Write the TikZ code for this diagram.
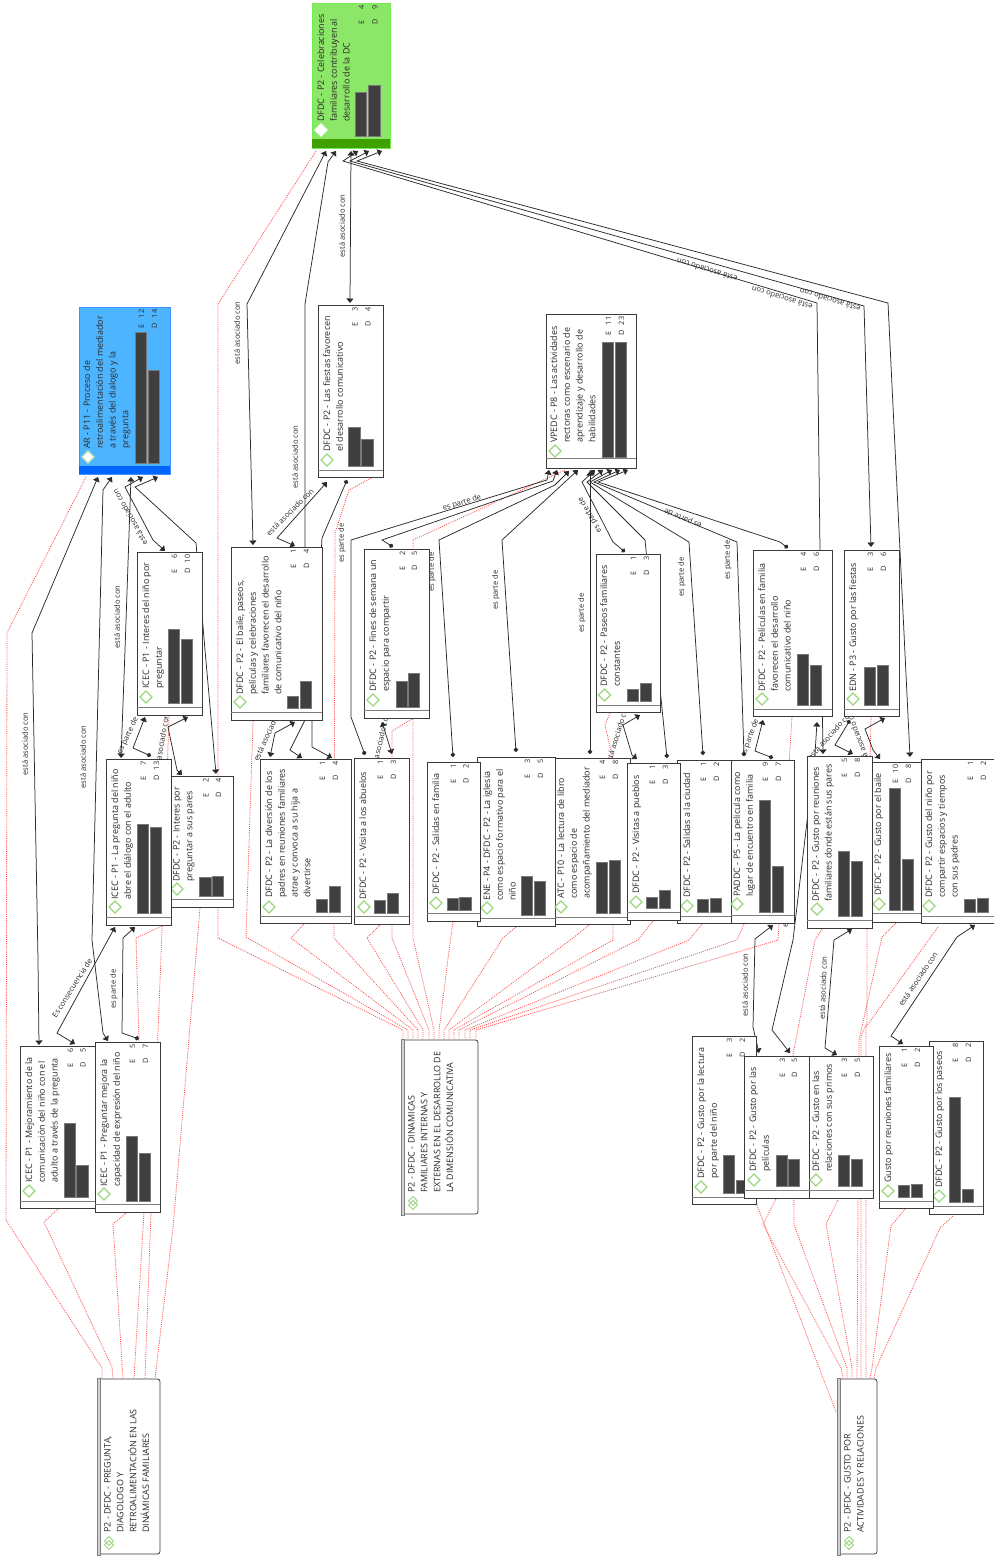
\documentclass[tikz,border=0pt]{standalone}
\usepackage{fontspec}
\setmainfont{Open Sans}
\usetikzlibrary{arrows.meta,calc,backgrounds}
\definecolor{ink}{HTML}{2A2A2A}
\definecolor{barc}{HTML}{3F3F3F}
\definecolor{edgec}{HTML}{3A3A3A}
\definecolor{footc}{HTML}{7F7F7F}
\definecolor{dgreen}{HTML}{9AD77F}
\definecolor{redc}{HTML}{FF5050}
\definecolor{bluef}{HTML}{4DB5FF}
\definecolor{bluefoot}{HTML}{0066FF}
\definecolor{greenf}{HTML}{8CE667}
\definecolor{greenfoot}{HTML}{3FA000}
\tikzset{
 plainbox/.style={draw=edgec,fill=white,line width=.9pt},
 bluebox/.style={draw=bluef!80!blue,fill=bluef,line width=.9pt},
 greenbox/.style={draw=greenf!80!green,fill=greenf,line width=.9pt},
 boxtxt/.style={rotate=90,anchor=north west,inner sep=0pt,align=left,text=ink,font=\fontsize{8.95}{12.8}\selectfont},
 cnt/.style={rotate=90,anchor=east,inner sep=0pt,text=ink,font=\fontsize{7.4}{9}\selectfont},
 lbl/.style={inner sep=0pt,text=ink,font=\fontsize{7.6}{9}\selectfont},
 conn/.style={draw=ink,line width=.75pt},
 hd/.style={conn,arrows={Triangle[length=4.5pt,width=7pt]-Triangle[length=4.5pt,width=7pt]}},
 hdot/.style={conn,arrows={Triangle[length=4.5pt,width=7pt]-Circle[length=4.5pt]}},
 redl/.style={draw=redc,line width=.8pt,dash pattern=on 1pt off 1.1pt},
}
\newcommand{\ep}[3]{($(#1-|#2,0)+(0,#3)$)}
\newcommand{\codeBox}[7]{%
 \pgfmathsetmacro{\bw}{#4-#2}\pgfmathsetmacro{\bh}{#5-#3}%
 \pgfmathsetmacro{\bcx}{(#4+#2)/2}\pgfmathsetmacro{\bcy}{(#5+#3)/2}%
 \node[#7,minimum width=\bw pt,minimum height=\bh pt,inner sep=0pt,outer sep=0pt] (#1) at (\bcx,\bcy) {};%
 \draw[footc,line width=.9pt] (#2,#6) -- (#4,#6);}
\newcommand{\codeText}[4]{\node[boxtxt] (#1t) at (#2-5,#3) {#4};}
\newcommand{\codeBars}[9]{%
 \draw[barc!70!white,fill=barc,line width=.4pt] (#2,#4) rectangle ({#2+11.3},#5);
 \draw[barc!70!white,fill=barc,line width=.4pt] (#3,#4) rectangle ({#3+11.3},#6);
 \node[cnt] (#1E) at ({#2+6.4},#9+2.5) {\makebox[19pt]{E\hfill#7}};
 \node[cnt] (#1D) at ({#3+6.4},#9+2.5) {\makebox[19pt]{D\hfill#8}};}
\newcommand{\codeIcon}[3][dgreen]{\draw[#1,line width=1.1pt,fill=white] (#2-6,#3) -- (#2,#3-6) -- (#2+6,#3) -- (#2,#3+6) -- cycle;}
\newcommand{\famBox}[6]{%
 \pgfmathsetmacro{\bw}{#4-#2}\pgfmathsetmacro{\bh}{#5-#3}%
 \pgfmathsetmacro{\bcx}{(#4+#2)/2}\pgfmathsetmacro{\bcy}{(#5+#3)/2}%
 \node[fill=white,minimum width=\bw pt,minimum height=\bh pt,inner sep=0pt,outer sep=0pt] (#1) at (\bcx,\bcy) {};%
 \draw[edgec,line width=.8pt,rounded corners=2.5pt] (#2,#3+1) -- (#4,#3+1) -- (#4,#5-1) -- (#2,#5-1);
 \draw[footc,fill=black!18,line width=.6pt] (#2,#3) rectangle (#2+3,#5);
 \draw[dgreen,line width=1pt,fill=white] (#6-4.5,#5-14) -- (#6,#5-18.5) -- (#6+4.5,#5-14) -- (#6,#5-9.5) -- cycle;
 \draw[dgreen,line width=1pt] (#6-4.5,#5-10) -- (#6,#5-14.5) -- (#6+4.5,#5-10) -- (#6,#5-5.5) -- cycle;}
\begin{document}
\begin{tikzpicture}[x=1pt,y=-1pt]
\useasboundingbox (0,0) rectangle (993,1560);
% ---------- boxes
\codeBox{green}{312}{3}{390}{148}{143}{greenbox}
\fill[greenfoot] (312,139) rectangle (390,148);
\codeIcon[white]{321}{130}
\codeText{green}{322}{122}{DFDC - P2 - Celebraciones\\familiares contribuyen al\\desarrollo de la DC}
\codeBars{green}{355}{368.6}{136}{92}{85}{4}{9}{3}

\codeBox{ar}{79}{307}{170}{474}{470}{bluebox}
\fill[bluefoot] (79,466) rectangle (170,474);
\codeIcon[dgreen!60!white]{88}{457}
\codeText{ar}{88}{449}{AR - P11 - Proceso de\\retroalimentación del mediador\\a través del dialogo y la\\pregunta}
\codeBars{ar}{135}{148}{463}{332}{370}{12}{14}{307}

\codeBox{inino}{137}{552}{202}{715}{707}{plainbox}
\codeIcon{146}{697}
\codeText{inino}{147}{689}{ICEC - P1 - Interes del niño por\\preguntar}
\codeBars{inino}{168}{181}{703}{629}{639}{6}{10}{552}

\codeBox{ipares}{171}{776}{233}{907}{899}{plainbox}
\codeIcon{177}{889}
\codeText{ipares}{178}{882}{DFDC - P2 - Interes por\\preguntar a sus pares}
\codeBars{ipares}{199.5}{212}{896}{877}{876}{2}{4}{776}

\codeBox{lapreg}{106}{759}{171}{925}{917}{plainbox}
\codeIcon{115}{907}
\codeText{lapreg}{116}{900}{ICEC - P1 - La pregunta del niño\\abre el diálogo con el adulto}
\codeBars{lapreg}{137}{150}{913}{824}{827}{7}{13}{759}

\codeBox{baile}{231}{547}{322}{720}{712}{plainbox}
\codeIcon{240}{702}
\codeText{baile}{241}{695}{DFDC - P2 - El baile, paseos,\\películas y celebraciones\\familiares favorecen el desarrollo\\de comunicativo del niño}
\codeBars{baile}{287}{300}{708}{696}{681}{1}{4}{547}

\codeBox{fiestas}{318}{305}{383}{477}{470}{plainbox}
\codeIcon{327}{460}
\codeText{fiestas}{328}{452}{DFDC - P2 - Las fiestas favorecen\\el desarrollo comunicativo}
\codeBars{fiestas}{348.5}{361.5}{466}{427}{439}{3}{4}{305}

\codeBox{vp}{546}{314}{636}{468}{458}{plainbox}
\codeIcon{555}{451}
\codeText{vp}{555}{443}{VPEDC - P8 - Las actividades\\rectoras como escenario de\\aprendizaje y desarrollo de\\habilidades}
\codeBars{vp}{602}{615}{457}{342}{342}{11}{23}{314}

\codeBox{fines}{364}{549}{429}{718}{710}{plainbox}
\codeIcon{373}{700}
\codeText{fines}{374}{692}{DFDC - P2 - Fines de semana un\\espacio para compartir}
\codeBars{fines}{396}{408}{707}{681}{673}{2}{5}{549}

\codeBox{paseos}{596}{554}{660}{712}{705}{plainbox}
\codeIcon{604.5}{695}
\codeText{paseos}{605}{687}{DFDC - P2 - Paseos familiares\\constantes}
\codeBars{paseos}{627}{640}{701}{689}{683}{1}{3}{554}

\codeBox{pelis}{753}{550}{832}{716}{709}{plainbox}
\codeIcon{762}{699}
\codeText{pelis}{763}{692}{DFDC - P2 - Películas en familia\\favorecen el desarrollo\\comunicativo del niño}
\codeBars{pelis}{797}{810}{705}{654}{665}{4}{6}{550}

\codeBox{edn}{844}{550}{899}{716}{709}{plainbox}
\codeIcon{853}{699}
\codeText{edn}{854}{692}{EDN - P3 - Gusto por las fiestas}
\codeBars{edn}{864}{877}{705}{667}{665}{3}{6}{550}

\codeBox{diver}{260}{759}{351}{923}{916}{plainbox}
\codeIcon{269}{907}
\codeText{diver}{270}{898}{DFDC - P2 - La diversión de los\\padres en reuniones familiares\\atrae y convoca a su hija a\\divertirse}
\codeBars{diver}{316}{329}{912}{899}{886}{1}{4}{759}

\codeBox{abuelos}{354}{758}{409}{924}{916}{plainbox}
\codeIcon{364}{907}
\codeText{abuelos}{364}{900}{DFDC - P2 - Visita a los abuelos}
\codeBars{abuelos}{374}{387}{913}{900}{893}{1}{3}{758}

\codeBox{iglesia}{477}{757}{555}{926}{918}{plainbox}
\codeIcon{487}{908}
\codeText{iglesia}{488}{901}{ENE - P4 - DFDC - P2 - La iglesia\\como espacio formativo para el\\niño}
\codeBars{iglesia}{521}{534}{915}{876}{881}{3}{5}{757}

\codeBox{salfam}{427}{762}{480}{921}{913}{plainbox}
\codeIcon{436}{903}
\codeText{salfam}{437}{895}{DFDC - P2 - Salidas en familia}
\codeBars{salfam}{447}{459.5}{910}{898}{897}{1}{2}{762}

\codeBox{atc}{555}{758}{630}{924}{917}{plainbox}
\codeIcon{561}{907}
\codeText{atc}{562}{899}{ATC - P10 - La lectura de libro\\como espacio de\\acompañamiento del mediador}
\codeBars{atc}{596}{609}{913}{862}{860}{4}{8}{758}

\codeBox{ciudad}{677}{760}{731}{923}{916}{plainbox}
\codeIcon{687}{906}
\codeText{ciudad}{688}{898}{DFDC - P2 - Salidas a la ciudad}
\codeBars{ciudad}{697}{710}{912}{899}{898}{1}{2}{760}

\codeBox{pueblos}{627}{763}{680}{920}{912}{plainbox}
\codeIcon{636}{902}
\codeText{pueblos}{637}{894}{DFDC - P2 - Visitas a pueblos}
\codeBars{pueblos}{646}{659}{908}{897}{890}{1}{3}{763}

\codeBox{paddc}{731}{760}{794}{923}{915}{plainbox}
\codeIcon{737}{904}
\codeText{paddc}{738}{897}{PADDC - P5 - La pelicula como\\lugar de encuentro en familia}
\codeBars{paddc}{759}{772}{912}{800}{866}{9}{7}{760}

\codeBox{gbaile}{872}{762}{922}{922}{913}{plainbox}
\codeIcon{879}{904}
\codeText{gbaile}{879}{896}{DFDC - P2 - Gusto por el baile}
\codeBars{gbaile}{889}{902}{910}{788}{859}{10}{8}{762}

\codeBox{greun}{807}{756}{872}{928}{920}{plainbox}
\codeIcon{817}{909}
\codeText{greun}{817}{902}{DFDC - P2 - Gusto por reuniones\\familiares donde están sus pares}
\codeBars{greun}{838}{851}{916}{851}{861}{5}{8}{756}

\codeBox{gnino}{921}{759}{1000}{923}{916}{plainbox}
\codeIcon{929}{906}
\codeText{gnino}{930}{898}{DFDC - P2 - Gusto del niño por\\compartir espacios y tiempos\\con sus padres}
\codeBars{gnino}{964}{977}{912}{899}{898}{1}{2}{759}

\codeBox{lectura}{692}{1036}{756}{1204}{1197}{plainbox}
\codeIcon{701}{1187}
\codeText{lectura}{702}{1179}{DFDC - P2 - Gusto por la lectura\\por parte del niño}
\codeBars{lectura}{723}{736}{1193}{1155}{1180}{3}{2}{1036}

\codeBox{gpelis}{744}{1056}{809}{1198}{1190}{plainbox}
\codeIcon{754}{1180}
\codeText{gpelis}{754}{1172}{DFDC - P2 - Gusto por las\\películas}
\codeBars{gpelis}{776}{788}{1186}{1155}{1159}{3}{5}{1056}

\codeBox{primos}{809}{1056}{873}{1198}{1190}{plainbox}
\codeIcon{816}{1180}
\codeText{primos}{817}{1172}{DFDC - P2 - Gusto en las\\relaciones con sus primos}
\codeBars{primos}{838}{851}{1186}{1155}{1159}{3}{5}{1056}

\codeBox{gpaseos}{929}{1041}{983}{1214}{1206}{plainbox}
\codeIcon{939}{1196}
\codeText{gpaseos}{940}{1188}{DFDC - P2 - Gusto por los paseos}
\codeBars{gpaseos}{949}{962}{1202}{1097}{1189}{8}{2}{1041}

\codeBox{greufam}{879}{1046}{933}{1208}{1201}{plainbox}
\codeIcon{888}{1191}
\codeText{greufam}{889}{1183}{Gusto por reuniones familiares}
\codeBars{greufam}{898}{911}{1197}{1185}{1184}{1}{2}{1046}

\codeBox{mejora}{20}{1046}{95}{1208}{1201}{plainbox}
\codeIcon{29}{1191}
\codeText{mejora}{30}{1183}{ICEC - P1 - Mejoramiento de la\\comunicación del niño con el\\adulto a través de la pregunta}
\codeBars{mejora}{64}{76.5}{1197}{1123}{1165}{6}{5}{1046}

\codeBox{pregme}{95}{1042}{160}{1212}{1204}{plainbox}
\codeIcon{104}{1194}
\codeText{pregme}{105}{1187}{ICEC - P1 - Preguntar mejora la\\capacidad de expresión del niño}
\codeBars{pregme}{126}{139}{1201}{1136}{1153}{5}{7}{1042}

% ---------- family boxes
\famBox{fone}{401}{1039}{478}{1215}{413}
\node[boxtxt] (fonet) at (413-5,1193) {P2 - DFDC - DINAMICAS\\FAMILIARES INTERNAS Y\\EXTERNAS EN EL DESARROLLO DE\\LA DIMENSIÓN COMUNICATIVA};
\famBox{ftwo}{97}{1378}{160}{1555}{109}
\node[boxtxt] (ftwot) at (109-5,1533) {P2 - DFDC - PREGUNTA,\\DIAGOLOGO Y\\RETROALIMENTACIÓN EN LAS\\DINÁMICAS FAMILIARES};
\famBox{fthree}{837}{1378}{877}{1555}{849}
\node[boxtxt] (fthreet) at (849-5,1533) {P2 - DFDC - GUSTO POR\\ACTIVIDADES Y RELACIONES};

% ---------- connectors behind the boxes
\begin{scope}[on background layer]
% red: family 1
\draw[redl] \ep{green.south}{316}{3} -- (218,304) -- (218,938) -- (403,1030) -- \ep{fone.north}{403}{0};
\draw[redl] \ep{baile.south}{253}{1} -- (246,937) -- (408,1030) -- \ep{fone.north}{408}{0};
\draw[redl] \ep{diver.south}{304}{1} -- (291,938) -- (413,1030) -- \ep{fone.north}{413}{0};
\draw[redl] \ep{fiestas.south}{371}{1} -- (349,490) -- (335,533) -- (334,938) -- (418,1030) -- \ep{fone.north}{418}{0};
\draw[redl] \ep{abuelos.south}{380}{1} -- (367,938) -- (423,1030) -- \ep{fone.north}{423}{0};
\draw[redl] \ep{fines.south}{412}{1} -- (392,731) -- (392,938) -- (429,1030) -- \ep{fone.north}{429}{0};
\draw[redl] \ep{vp.south}{565}{2} -- (413,540) -- (413,938) -- (434,1030) -- \ep{fone.north}{434}{0};
\draw[redl] \ep{salfam.south}{453}{1} -- (450,943) -- (439,1030) -- \ep{fone.north}{439}{0};
\draw[redl] \ep{iglesia.south}{516}{1} -- (503,938) -- (444,1030) -- \ep{fone.north}{444}{0};
\draw[redl] \ep{atc.south}{589}{1} -- (573,938) -- (449,1030) -- \ep{fone.north}{449}{0};
\draw[redl] \ep{paseos.south}{610}{1} -- (605,725) -- (613,760) -- (613,940) -- (454,1030) -- \ep{fone.north}{454}{0};
\draw[redl] \ep{pueblos.south}{653}{1} -- (638,940) -- (459,1030) -- \ep{fone.north}{459}{0};
\draw[redl] \ep{ciudad.south}{702}{1} -- (689,940) -- (465,1030) -- \ep{fone.north}{465}{0};
\draw[redl] \ep{paddc.south}{744}{1} -- (737,940) -- (470,1030) -- \ep{fone.north}{470}{0};
\draw[redl] \ep{pelis.south}{792}{1} -- (778,940) -- (476,1030) -- \ep{fone.north}{476}{0};
% red: family 2
\draw[redl] \ep{ar.south}{86}{3} -- (7,633) -- (6,1220) -- (102,1368) -- \ep{ftwo.north}{102}{0};
\draw[redl] \ep{mejora.south}{58}{1} -- (44,1222) -- (112,1367) -- \ep{ftwo.north}{113}{0};
\draw[redl] \ep{pregme.south}{126}{1} -- (113,1224) -- \ep{ftwo.north}{123}{0};
\draw[redl] \ep{lapreg.south}{162}{1} -- (136,938) -- (144,1212) -- \ep{ftwo.north}{134}{0};
\draw[redl] \ep{inino.south}{169}{1} -- (162,930) -- (151,1212) -- \ep{ftwo.north}{145}{0};
\draw[redl] \ep{ipares.south}{200}{1} -- (173,1228) -- \ep{ftwo.north}{155}{0};
% red: family 3
\draw[redl] \ep{lectura.south}{757}{1} -- (836,1412);
\draw[redl] \ep{gpelis.south}{776}{1} -- (763,1224) -- (841,1368) -- \ep{fthree.north}{843}{0};
\draw[redl] \ep{greun.south}{822}{1} -- (815,940) -- (793,1055) -- (794,1225) -- (847,1368) -- \ep{fthree.north}{847}{0};
\draw[redl] \ep{primos.south}{838}{2} -- (826,1224) -- (852,1368) -- \ep{fthree.north}{852}{0};
\draw[redl] \ep{gbaile.south}{896}{1} -- (882,937) -- (859,1040) -- \ep{fthree.north}{857}{0};
\draw[redl] \ep{edn.south}{871}{1} -- (867,928) -- (867,1023) -- (861,1036) -- \ep{fthree.north}{861}{0};
\draw[redl] \ep{gnino.south}{938}{4} -- (866,1027) -- \ep{fthree.north}{866}{0};
\draw[redl] \ep{greufam.south}{905}{1} -- (891,1226) -- (872,1368) -- \ep{fthree.north}{870}{0};
\draw[redl] \ep{gpaseos.south}{953}{2} -- (940,1228) -- (876,1368) -- \ep{fthree.north}{874}{0};
% black: AR
\draw[hd] \ep{ar.south}{98}{3} -- (32,633) -- (38,960) -- \ep{mejora.north}{39}{-1};
\draw[hd] \ep{ar.south}{112}{3} -- (103,490) -- (92,940) -- (103,1033) -- \ep{pregme.north}{108}{-1};
\draw[hd] \ep{ar.south}{131}{3} -- (125,650) -- \ep{lapreg.north}{121}{-1};
\draw[hd] \ep{ar.south}{143}{3} -- (125,487) -- (153,540) -- \ep{inino.north}{165}{-1};
\draw[hd] \ep{ar.south}{158}{3} -- (135,487) -- (196,543) -- (205,650) -- \ep{ipares.north}{216}{-2};
\draw[hdot] \ep{inino.south}{145}{2} -- (133,748) -- \ep{lapreg.north}{151}{-3};
\draw[hd] \ep{inino.south}{188}{2} -- (168,727) -- (177,770) -- \ep{ipares.north}{182}{-1};
\draw[hd] \ep{lapreg.south}{115}{2} -- (57,1033) -- \ep{mejora.north}{75}{-2};
\draw[hdot] \ep{lapreg.south}{135}{2} -- (123,938) -- (122,1033) -- \ep{pregme.north}{139}{-3};
% black: green
\draw[hd] \ep{green.south}{326}{3} -- (247,304) -- \ep{baile.north}{253}{-2};
\draw[hd] \ep{green.south}{336}{3} -- (328,162) -- (305,304) -- (305,720) -- (290,750) -- \ep{diver.north}{302}{-1};
\draw[hd] \ep{green.south}{351}{3} -- \ep{fiestas.north}{350}{-2};
\draw[hd] \ep{green.south}{358}{3} -- (343,161) -- (817,303) -- (820,550) -- \ep{greun.north}{823}{-2};
\draw[hd] \ep{green.south}{369}{3} -- (350,161) -- (864,306) -- \ep{edn.north}{871}{-3};
\draw[hd] \ep{green.south}{382}{3} -- (357,161) -- (888,303) -- \ep{gbaile.north}{910}{-5};
\draw[hd] \ep{fiestas.south}{327}{5} -- (277,538) -- \ep{baile.north}{295}{-1};
\draw[hdot,arrows={Circle[length=4.5pt]-Triangle[length=4.5pt,width=7pt]}] \ep{fiestas.south}{347}{3} -- (322,538) -- (312,720) -- (312,747) -- \ep{diver.north}{332}{-1};
\draw[hd] \ep{baile.south}{295}{2} -- (275,733) -- \ep{diver.north}{270}{-2};
% black: VP
\draw[hdot] \ep{vp.south}{549}{2} -- (547,480) -- (351,540) -- (351,717) -- \ep{abuelos.north}{365}{-3};
\draw[hdot] \ep{vp.south}{557}{2} -- (553,481) -- (382,540) -- \ep{fines.north}{393}{-2};
\draw[hdot] \ep{vp.south}{569}{3} -- (555,485) -- (439,540) -- \ep{salfam.north}{453}{-5};
\draw[hdot] \ep{vp.south}{578}{2} -- (502,540) -- \ep{iglesia.north}{516}{-5};
\draw[hdot] \ep{vp.south}{590}{3} -- \ep{atc.north}{590}{-4};
\draw[hdot] \ep{vp.south}{595}{2} -- (582,482) -- (613,542) -- \ep{paseos.north}{625}{-2};
\draw[hdot] \ep{vp.south}{603}{2} -- (587,482) -- (645,540) -- \ep{pueblos.north}{667}{-5};
\draw[hdot] \ep{vp.south}{612}{2} -- (590,482) -- (689,542) -- \ep{ciudad.north}{703}{-5};
\draw[hdot] \ep{vp.south}{620}{2} -- (594,482) -- (737,542) -- \ep{paddc.north}{744}{-4};
\draw[hdot] \ep{vp.south}{628}{2} -- (598,482) -- (780,542) -- \ep{pelis.north}{788}{-2};
% black: lower
\draw[hd] \ep{fines.south}{382}{4} -- \ep{abuelos.north}{392}{-4};
\draw[hd] \ep{paseos.south}{640}{3} -- (623,725) -- (632,755) -- \ep{pueblos.north}{637}{-4};
\draw[hdot] \ep{pelis.south}{763}{4} -- (755,751) -- \ep{paddc.north}{773}{-2};
\draw[hd] \ep{pelis.south}{817}{6} -- (815,754) -- (793,940) -- (772,1030) -- \ep{gpelis.north}{790}{-3};
\draw[hdot,arrows={Circle[length=4.5pt]-Triangle[length=4.5pt,width=7pt]}] \ep{edn.south}{850}{4} -- (835,745) -- \ep{greun.north}{853}{-2};
\draw[hd] \ep{edn.south}{885}{2} -- (865,729) -- (873,750) -- \ep{gbaile.north}{880}{-3};
\draw[hd] \ep{paddc.south}{773}{2} -- (755,939) -- (753,1027) -- \ep{gpelis.north}{759}{-3};
\draw[hd] \ep{greun.south}{852}{1} -- (834,940) -- (825,1048) -- \ep{primos.north}{837}{-1};
\draw[hd] \ep{gnino.south}{975}{2} -- (957,937) -- (891,1036) -- \ep{greufam.north}{903}{-2};
% labels
\node[lbl,rotate=90] (la1) at (25,744) {está asociado con};
\node[lbl,rotate=90] (la2) at (83,757) {está asociado con};
\node[lbl,rotate=90] (la3) at (117,617) {está asociado con};
\node[lbl,rotate=119] (la4) at (130,517) {está asociado con};
\node[lbl,rotate=80] (la5) at (161,745) {está asociado con};
\node[lbl,rotate=65] (la6) at (128,736) {es parte de};
\node[lbl,rotate=58] (la7) at (72,988) {Es consecuencia de};
\node[lbl,rotate=90] (la8) at (114,989) {es parte de};
\node[lbl,rotate=90] (lg1) at (237,333) {está asociado con};
\node[lbl,rotate=90] (lg2) at (295,457) {está asociado con};
\node[lbl,rotate=90] (lg3) at (342,226) {está asociado con};
\node[lbl,rotate=163] (lg4) at (707,270) {está asociado con};
\node[lbl,rotate=163] (lg5) at (782,298) {está asociado con};
\node[lbl,rotate=163] (lg6) at (830,300) {está asociado con};
\node[lbl,rotate=45] (lg7) at (290,512) {está asociado con};
\node[lbl,rotate=90] (lg8) at (342,543) {es parte de};
\node[lbl,rotate=66] (lg9) at (268.6,732) {está asociado con};
\node[lbl,rotate=17] (lv1) at (462,503) {es parte de};
\node[lbl,rotate=90] (lv2) at (432,572) {es parte de};
\node[lbl,rotate=90] (lv3) at (496,590) {es parte de};
\node[lbl,rotate=90] (lv4) at (582,613) {es parte de};
\node[lbl,rotate=120] (lv5) at (590,515) {es parte de};
\node[lbl,rotate=90] (lv6) at (682,577) {es parte de};
\node[lbl,rotate=157] (lv7) at (683,518) {es parte de};
\node[lbl,rotate=90] (lv8) at (728,560) {es parte de};
\node[lbl,rotate=77] (ll1) at (379.5,744) {está asociado con};
\node[lbl,rotate=73] (ll2) at (617,735) {está asociado con};
\node[lbl,rotate=70] (ll3) at (750,738) {es parte de};
\node[lbl,rotate=48] (ll4) at (830,735) {está asociado con};
\node[lbl,rotate=110] (ll5) at (858,738) {está asociado con};
\node[lbl,rotate=90] (ll6) at (745,985) {está asociado con};
\node[lbl,rotate=88] (ll7) at (823,988) {está asociado con};
\node[lbl,rotate=56] (ll8) at (918,979) {está asociado con};
\node[lbl,rotate=90] (ll9) at (786,908) {es parte de};
\end{scope}
\end{tikzpicture}
\end{document}
